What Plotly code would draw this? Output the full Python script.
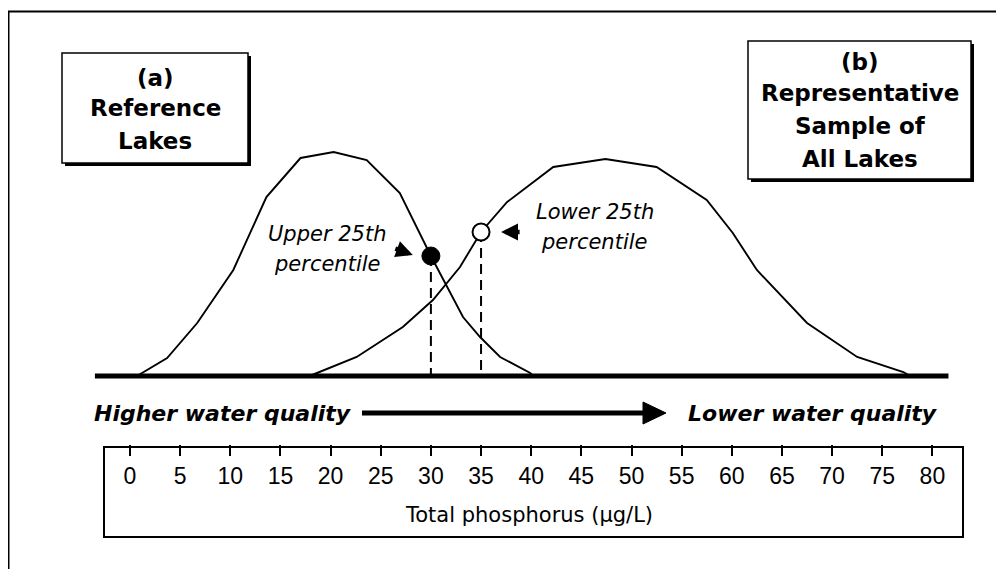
import plotly.graph_objects as go

# Reference lakes distribution (x = total phosphorus, y = relative frequency, arbitrary units)
ref_x = [0.7, 3.7, 6.7, 10.3, 13.6, 17.0, 20.3, 23.6, 26.9, 30.0, 33.2, 34.9, 36.9, 39.9, 40.2]
ref_y = [0, 18, 53, 106, 179, 218, 224, 216, 183, 120, 59, 39, 19, 3, 0]

# Representative sample of all lakes
all_x = [17.9, 22.6, 27.2, 30.2, 32.9, 35.0, 37.6, 42.2, 47.4, 52.5, 57.5, 60.1, 62.5, 67.5, 72.5, 77.1, 77.8]
all_y = [0, 19, 49, 76, 109, 144, 174, 209, 217, 209, 176, 143, 106, 53, 19, 4, 0]

# percentile markers
upper_x, upper_y = [30], [120]
lower_x, lower_y = [35], [144]

base_x = [-3.5, 81.6]
base_y = [0, 0]

tick_vals = list(range(0, 85, 5))
tick_text = [str(v) for v in tick_vals]

# the page body has an 8px margin, so the figure is sized and placed for that
OFF = 8
W, H = 1004 - OFF, 569 - OFF


def px(x):
    return (x - OFF) / W


def py(y):
    return 1 - (y - OFF) / H


fig = go.Figure()
fig.add_trace(go.Scatter(x=base_x, y=base_y, mode="lines", line=dict(color="black", width=5)))
fig.add_trace(go.Scatter(x=ref_x, y=ref_y, mode="lines", line=dict(color="black", width=1.9)))
fig.add_trace(go.Scatter(x=all_x, y=all_y, mode="lines", line=dict(color="black", width=1.9)))
fig.add_trace(go.Scatter(x=[upper_x[0], upper_x[0]], y=[upper_y[0], 0], mode="lines",
                         line=dict(color="black", width=2, dash="10px,6px")))
fig.add_trace(go.Scatter(x=[lower_x[0], lower_x[0]], y=[lower_y[0], 0], mode="lines",
                         line=dict(color="black", width=2, dash="10px,6px")))
fig.add_trace(go.Scatter(x=upper_x, y=upper_y, mode="markers",
                         marker=dict(size=18, color="black", line=dict(color="black", width=1))))
fig.add_trace(go.Scatter(x=lower_x, y=lower_y, mode="markers",
                         marker=dict(size=17, color="white", line=dict(color="black", width=2))))

shapes = [
    # outer frame (top and left edges)
    dict(type="line", xref="paper", yref="paper", x0=px(8), y0=py(11.5), x1=px(1004), y1=py(11.5),
         line=dict(color="black", width=2)),
    dict(type="line", xref="paper", yref="paper", x0=px(8.5), y0=py(11), x1=px(8.5), y1=py(569),
         line=dict(color="black", width=2)),
    # box (a) with drop shadow
    dict(type="rect", xref="paper", yref="paper", x0=px(65), y0=py(56), x1=px(251), y1=py(166),
         fillcolor="black", line=dict(width=0)),
    dict(type="rect", xref="paper", yref="paper", x0=px(62), y0=py(53), x1=px(248), y1=py(163),
         fillcolor="white", line=dict(color="black", width=1.5)),
    # box (b) with drop shadow
    dict(type="rect", xref="paper", yref="paper", x0=px(751), y0=py(44), x1=px(974), y1=py(182),
         fillcolor="black", line=dict(width=0)),
    dict(type="rect", xref="paper", yref="paper", x0=px(748), y0=py(41), x1=px(971), y1=py(179),
         fillcolor="white", line=dict(color="black", width=1.5)),
    # axis box
    dict(type="rect", xref="paper", yref="paper", x0=px(104), y0=py(447), x1=px(963), y1=py(537),
         line=dict(color="black", width=2)),
    # big arrow
    dict(type="line", xref="paper", yref="paper", x0=px(362), y0=py(413), x1=px(646), y1=py(413),
         line=dict(color="black", width=5)),
    dict(type="path", xref="paper", yref="paper",
         path=f"M {px(643)} {py(402)} L {px(666)} {py(413)} L {px(643)} {py(424)} Z",
         fillcolor="black", line=dict(color="black", width=1)),
]

bold = dict(family="DejaVu Sans", size=23, color="black", weight="bold")
ital = dict(family="DejaVu Sans", size=21, color="black", style="italic")
bold_ital = dict(family="DejaVu Sans", size=22, color="black", weight="bold", style="italic")


def txt(x, y, s, font):
    return dict(xref="paper", yref="paper", x=px(x), y=py(y), text=s, showarrow=False,
                xanchor="center", yanchor="middle", font=font)


annotations = [
    txt(155, 78, "(a)", bold),
    txt(155, 108, "Reference", bold),
    txt(155, 141, "Lakes", bold),
    txt(860, 62, "(b)", bold),
    txt(860, 93, "Representative", bold),
    txt(860, 126, "Sample of", bold),
    txt(860, 159, "All Lakes", bold),
    txt(327, 234, "Upper 25th", ital),
    txt(327, 264, "percentile", ital),
    txt(595, 212, "Lower 25th", ital),
    txt(594, 242, "percentile", ital),
    txt(223, 413, "Higher water quality", bold_ital),
    txt(813, 413, "Lower water quality", bold_ital),
    txt(529, 515, "Total phosphorus (µg/L)", dict(family="DejaVu Sans", size=21, color="black")),
    # small pointer arrows
    dict(x=28.2, y=121, xref="x", yref="y", ax=-19, ay=-7, text="", showarrow=True,
         arrowhead=2, arrowsize=0.75, arrowwidth=4.5, arrowcolor="black"),
    dict(x=37.0, y=144, xref="x", yref="y", ax=20, ay=0, text="", showarrow=True,
         arrowhead=2, arrowsize=0.75, arrowwidth=4.5, arrowcolor="black"),
]

fig.update_layout(
    width=W, height=H,
    margin=dict(l=0, r=0, t=0, b=0),
    paper_bgcolor="white", plot_bgcolor="white",
    showlegend=False,
    shapes=shapes,
    annotations=annotations,
)
# x: 0 sits at page pixel 130, 10.03 px per unit; y: baseline at page pixel 376, 1 px per unit
fig.update_xaxes(range=[-(130 - OFF) / 10.03, (1004 - 130) / 10.03], anchor="free", position=py(444),
                 tickmode="array", tickvals=tick_vals, ticktext=tick_text,
                 ticks="outside", ticklen=11, tickwidth=1.5, tickcolor="black",
                 tickfont=dict(family="Liberation Sans", size=23, color="black"),
                 showgrid=False, zeroline=False, showline=False)
fig.update_yaxes(range=[376 - 569, 376 - OFF], visible=False)

fig.write_html("out.html")
